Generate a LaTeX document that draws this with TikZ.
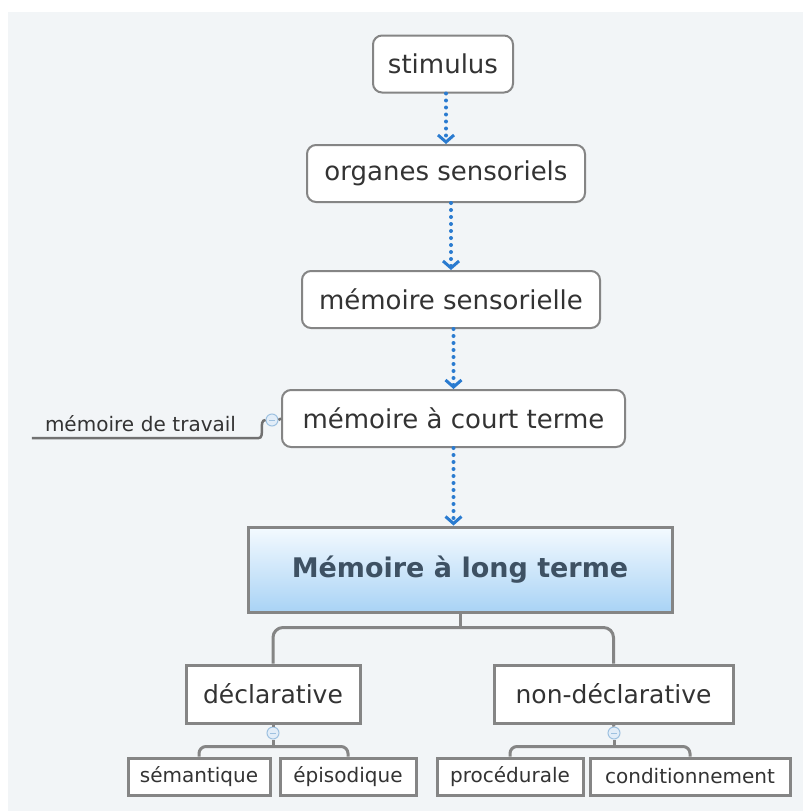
\documentclass[tikz,border=0pt]{standalone}
\usepackage{fontspec}
\setmainfont{DejaVu Sans}
\usepackage{xcolor}
\usetikzlibrary{arrows.meta}

\definecolor{fond}{HTML}{F2F5F7}
\definecolor{bord}{HTML}{858585}
\definecolor{texte}{HTML}{333333}
\definecolor{bleufleche}{HTML}{2A7BD0}
\definecolor{ltmhaut}{HTML}{F4FAFF}
\definecolor{ltmbas}{HTML}{A9D3F5}
\definecolor{ltmtexte}{HTML}{3E5163}
\definecolor{marqueur}{HTML}{9EC1E0}
\definecolor{marqueurfond}{HTML}{E2EDF8}

\tikzset{
  etape/.style={draw=bord, line width=2pt, rounded corners=9pt, fill=white, text=texte,
    font=\fontsize{26}{31}\selectfont, minimum height=57pt, inner sep=0pt},
  principal/.style={draw=bord, line width=3pt, top color=ltmhaut, bottom color=ltmbas,
    text=ltmtexte, font=\fontsize{27}{32}\selectfont\bfseries, minimum height=85pt,
    minimum width=424pt, inner sep=0pt},
  categorie/.style={draw=bord, line width=3pt, fill=white, text=texte,
    font=\fontsize{25}{30}\selectfont, minimum height=58pt, inner sep=0pt},
  feuille/.style={draw=bord, line width=3pt, fill=white, text=texte,
    font=\fontsize{20}{24}\selectfont, minimum height=37pt, inner sep=0pt},
  fleche/.style={draw=bleufleche, line width=4pt, line cap=round, dash pattern=on 0pt off 7pt,
    -{Straight Barb[length=7pt,width=16pt,line width=3pt]}},
  branche/.style={draw=bord, line width=3pt},
  lien/.style={draw=bord!85!black, line width=2.5pt},
  marque/.style={circle, draw=marqueur, fill=marqueurfond, line width=1pt, minimum size=12pt,
    inner sep=0pt, path picture={\draw[marqueur, line width=1pt]
      ([xshift=-3pt]path picture bounding box.center) -- ([xshift=3pt]path picture bounding box.center);}}
}

\begin{document}
\begin{tikzpicture}[x=1pt,y=-1pt]
\useasboundingbox (0,0) rectangle (803,811);
\fill [white] (0,0) rectangle (803,811);
\fill [fond] (8,12) rectangle (803,811);

% chaine principale
\node [etape, minimum width=140pt] (stimulus) at (443,64) {stimulus};
\node [etape, minimum width=278pt] (organes) at (446,173.5) {organes sensoriels};
\node [etape, minimum width=298pt] (sensorielle) at (451,299.5) {mémoire sensorielle};
\node [etape, minimum width=343pt] (court) at (453.5,418.5) {mémoire à court terme};
\node [principal] (long) at (460,569.5) {Mémoire à long terme};

\draw [fleche] (organes.north |- stimulus.south) -- (organes.north);
\draw [fleche] (sensorielle.north |- organes.south) -- (sensorielle.north);
\draw [fleche] (court.north |- sensorielle.south) -- (court.north);
\draw [fleche] (court.south) -- (long.north -| court.south);

% memoire de travail
\node [marque] (m1) at (272,420) {};
\node [text=texte, font=\fontsize{20}{24}\selectfont, text width=200pt, align=left,
  inner xsep=13pt, inner ysep=0pt, minimum height=28pt] (travail) at (145,424) {mémoire de travail};
\draw [lien] (court.west) -- (m1.east);
\draw [lien] (m1.west) to[out=180,in=0] (travail.south east) -- (travail.south west);

% types
\node [categorie, minimum width=174pt] (decl) at (273,694) {déclarative};
\node [categorie, minimum width=239pt] (nondecl) at (613.5,694) {non-déclarative};
\draw [branche] (long.south) -- ++(0,14) coordinate (fourche);
\draw [branche, rounded corners=10pt] (decl.north) |- (fourche) -| (nondecl.north);

\node [marque] (m2) at (273,733) {};
\node [marque] (m3) at (614,733) {};

\node [feuille, minimum width=142pt] (sem) at (199,776.5) {sémantique};
\node [feuille, minimum width=136pt] (epi) at (348,776.5) {épisodique};
\node [feuille, minimum width=146pt] (proc) at (510,776.5) {procédurale};
\node [feuille, minimum width=200pt] (cond) at (690,776.5) {conditionnement};

\draw [branche] (decl.south) -- (m2.north);
\draw [branche] (m2.south) -- ++(0,7) coordinate (f2);
\draw [branche, rounded corners=7pt] (sem.north) |- (f2) -| (epi.north);
\draw [branche] (nondecl.south) -- (m3.north);
\draw [branche] (m3.south) -- ++(0,7) coordinate (f3);
\draw [branche, rounded corners=7pt] (proc.north) |- (f3) -| (cond.north);

\end{tikzpicture}
\end{document}
